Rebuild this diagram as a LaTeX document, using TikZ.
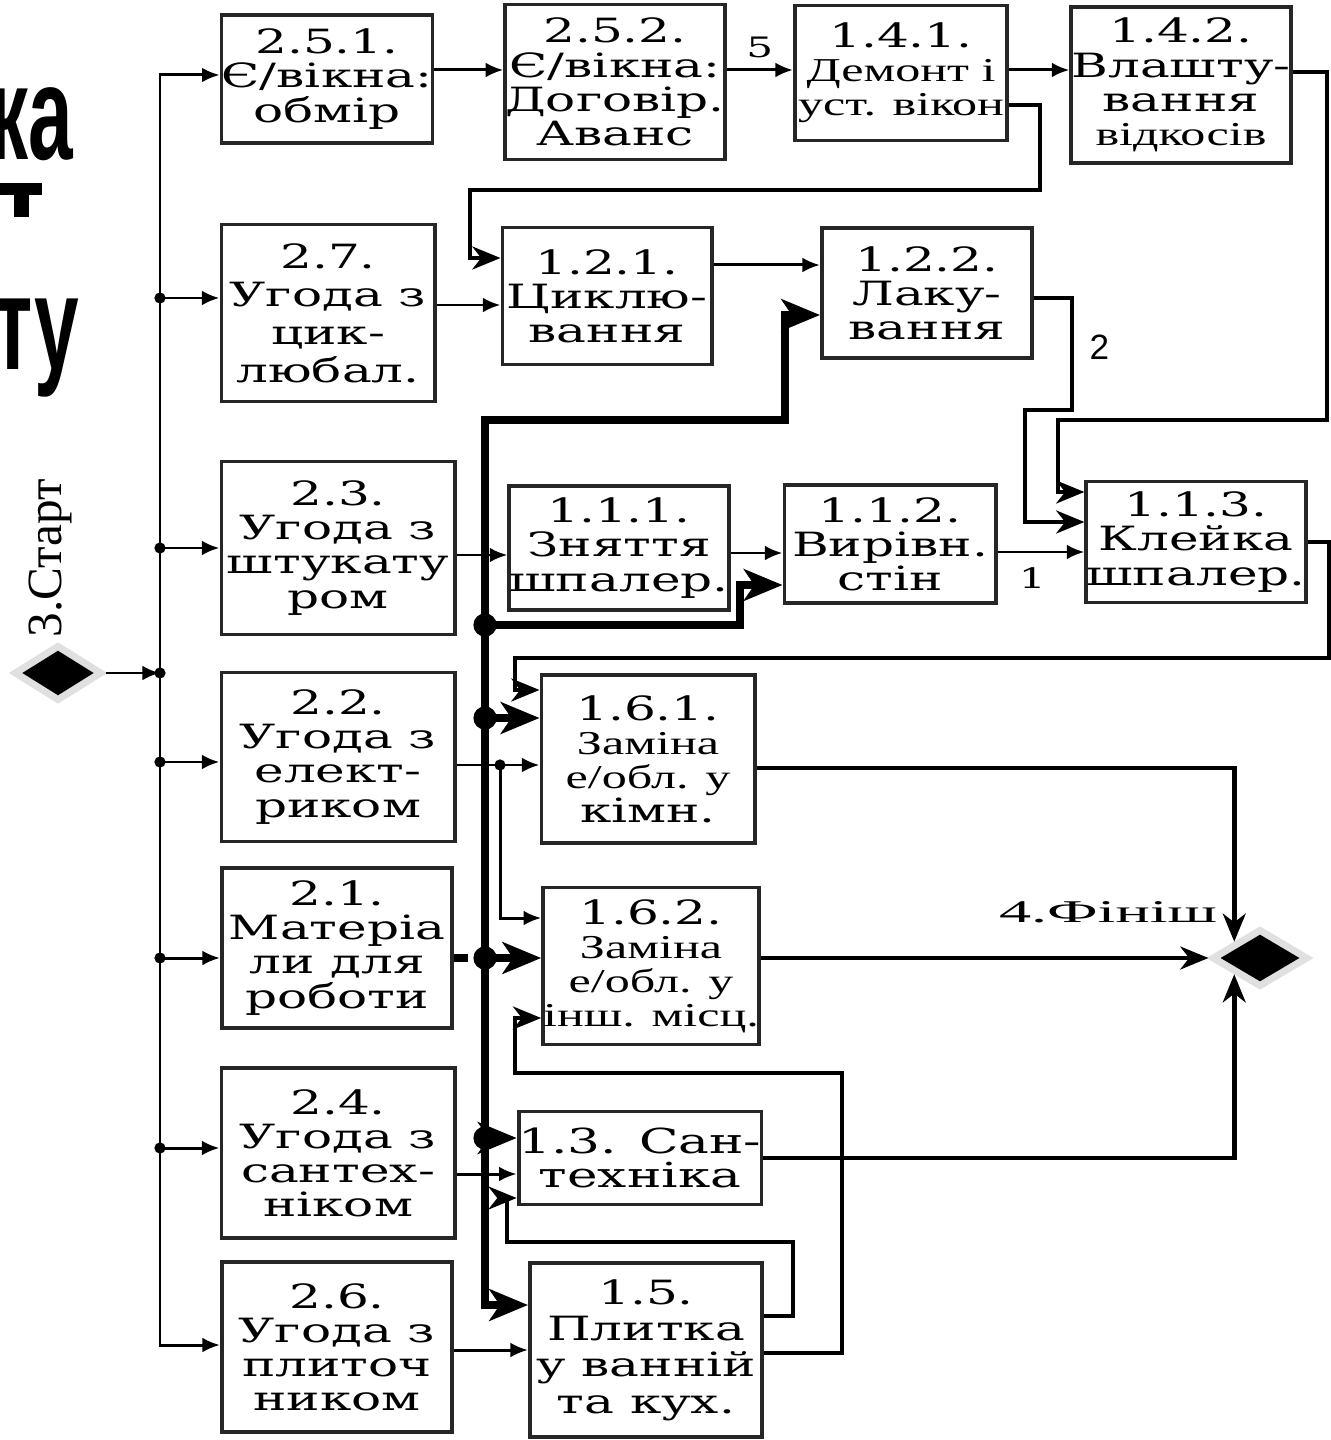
\documentclass[tikz,border=0pt]{standalone}
\usepackage{fontspec}
\setmainfont{DejaVu Serif}[FakeStretch=1.5]
\newfontfamily\narrowfont{Liberation Serif}[FakeStretch=1.5]
\newfontfamily\plainserif{Liberation Serif}
\newfontfamily\titlefont{Liberation Sans}
\usetikzlibrary{arrows.meta,calc,shapes.geometric}

\begin{document}
\begin{tikzpicture}[
    x=0.01cm, y=-0.01cm,
    font=\fontsize{9.5}{9.7}\selectfont,
    task/.style={draw=black!85, line width=1.1pt, fill=white, align=center, inner sep=0pt},
    link/.style={line width=0.85pt, -{Latex[length=5pt,width=4.2pt]}},
    relay/.style={line width=1.3pt, -{Stealth[length=8pt,width=6.5pt,inset=2.5pt]}},
    supply/.style={line width=2pt, -{Stealth[length=11pt,width=9pt,inset=3pt]}},
    milestone/.style={diamond, fill=black, draw=black!12, line width=2pt, inner sep=0pt},
    num/.style={font=\fontsize{8}{8}\selectfont, inner sep=1pt},
    heading/.style={anchor=base east, inner sep=0pt, font=\titlefont\bfseries\fontsize{38}{38}\selectfont}
  ]
    \useasboundingbox (0,0) rectangle (1331,1440);

    % cut title on the left
    \node[heading] (titlea) at (74,160) {\scalebox{0.6}[1]{ка}};
    \fill (0,183) rectangle (42,195);
    \fill (14,195) rectangle (29,217);
    \node[heading] (titlec) at (80,370) {\scalebox{0.6}[1]{ту}};

    % start and finish
    \node[milestone, minimum width=0.88cm, minimum height=0.56cm] (start) at (58,673) {};
    \node[rotate=90, font=\plainserif\fontsize{14}{14}\selectfont] (startlbl) at (50,558) {3.Старт};
    \node[milestone, minimum width=0.96cm, minimum height=0.58cm] (finish) at (1260,958) {};
    \node[font=\narrowfont\fontsize{9}{9}\selectfont] (finishlbl) at (1108,912) {\scalebox{1.35}[1]{4.Фініш}};

    % agreements
    \node[task, minimum width=2.10cm, minimum height=1.28cm] (measure) at (327,79) {2.5.1.\\Є/вікна:\\обмір};
    \node[task, minimum width=2.13cm, minimum height=1.77cm, font=\fontsize{9.5}{10.8}\selectfont] (sanderdeal) at (328,313) {2.7.\\Угода з\\цик-\\любал.};
    \node[task, minimum width=2.33cm, minimum height=1.73cm] (plasterdeal) at (338,548) {2.3.\\Угода з\\штукату\\ром};
    \node[task, minimum width=2.33cm, minimum height=1.69cm] (electricdeal) at (338,757) {2.2.\\Угода з\\елект-\\риком};
    \node[task, minimum width=2.30cm, minimum height=1.60cm] (materials) at (337,948) {2.1.\\Матеріа\\ли для\\роботи};
    \node[task, minimum width=2.33cm, minimum height=1.70cm] (plumbdeal) at (338,1153) {2.4.\\Угода з\\сантех-\\ніком};
    \node[task, minimum width=2.30cm, minimum height=1.70cm] (tiledeal) at (337,1347) {2.6.\\Угода з\\плиточ\\ником};

    % works
    \node[task, minimum width=2.10cm, minimum height=1.55cm] (contract) at (615,82) {2.5.2.\\Є/вікна:\\Договір.\\Аванс};
    \node[task, minimum width=2.12cm, minimum height=1.35cm] (windows) at (901,73) {1.4.1.\\{\narrowfont Демонт і}\\{\narrowfont уст. вікон}};
    \node[task, minimum width=2.12cm, minimum height=1.56cm] (slopes) at (1181,85) {1.4.2.\\Влашту-\\вання\\{\narrowfont відкосів}};
    \node[task, minimum width=2.09cm, minimum height=1.37cm] (sanding) at (607,296) {1.2.1.\\Циклю-\\вання};
    \node[task, minimum width=2.10cm, minimum height=1.30cm] (varnish) at (927,293) {1.2.2.\\Лаку-\\вання};
    \node[task, minimum width=2.08cm, minimum height=1.24cm] (strip) at (619,548) {1.1.1.\\Зняття\\шпалер.};
    \node[task, minimum width=2.11cm, minimum height=1.18cm] (level) at (890,544) {1.1.2.\\Вирівн.\\стін};
    \node[task, minimum width=2.09cm, minimum height=1.21cm] (paper) at (1196,542) {1.1.3.\\Клейка\\шпалер.};
    \node[task, minimum width=2.13cm, minimum height=1.68cm] (wiringroom) at (648,759) {1.6.1.\\{\narrowfont Заміна}\\{\narrowfont е/обл. у}\\кімн.};
    \node[task, minimum width=2.08cm, minimum height=1.57cm] (wiringother) at (651,966) {1.6.2.\\{\narrowfont Заміна}\\{\narrowfont е/обл. у}\\{\narrowfont інш. місц.}};
    \node[task, minimum width=2.34cm, minimum height=0.93cm, font=\fontsize{9.8}{9.8}\selectfont] (plumbing) at (640,1158) {1.3. Сан-\\техніка};
    \node[task, minimum width=2.32cm, minimum height=1.74cm, font=\fontsize{9.5}{10.3}\selectfont] (tiling) at (646,1350) {1.5.\\Плитка\\у ванній\\та кух.};

    % left bus
    \coordinate (bus) at (160,673);
    \draw[link] (start) -- (bus);
    \draw[link] (bus) |- (measure.west |- 0,75);
    \draw[link] (bus) |- (tiledeal.west |- 0,1345);
    \draw[link] (bus |- 0,298) -- (sanderdeal.west |- 0,298);
    \draw[link] (bus |- 0,548) -- (plasterdeal.west |- 0,548);
    \draw[link] (bus |- 0,762) -- (electricdeal.west |- 0,762);
    \draw[link] (bus |- 0,958) -- (materials.west |- 0,958);
    \draw[link] (bus |- 0,1148) -- (plumbdeal.west |- 0,1148);
    \fill (bus) circle[radius=1.6pt];
    \fill (bus |- 0,298) circle[radius=1.6pt];
    \fill (bus |- 0,548) circle[radius=1.6pt];
    \fill (bus |- 0,762) circle[radius=1.6pt];
    \fill (bus |- 0,958) circle[radius=1.6pt];
    \fill (bus |- 0,1148) circle[radius=1.6pt];

    % direct links
    \draw[link] (measure.east |- 0,70) -- (contract.west |- 0,70);
    \draw[link] (contract.east |- 0,70) -- node[num, above=2pt] (lblfive) {5} (windows.west |- 0,70);
    \draw[link] (windows.east |- 0,70) -- (slopes.west |- 0,70);
    \draw[link] (sanderdeal.east |- 0,305) -- (sanding.west |- 0,305);
    \draw[link] (sanding.east |- 0,265) -- (varnish.west |- 0,265);
    \draw[link] (plasterdeal.east |- 0,555) -- (strip.west |- 0,555);
    \draw[link] (strip.east |- 0,553) -- (level.west |- 0,553);
    \draw[link] (level.east |- 0,552) -- node[num, below=3pt, pos=0.4] (lblone) {1} (paper.west |- 0,552);
    \draw[link] (plumbdeal.east |- 0,1174) -- (plumbing.west |- 0,1174);
    \draw[link] (tiledeal.east |- 0,1350) -- (tiling.west |- 0,1350);
    \coordinate (elj) at (500,765);
    \draw[link] (electricdeal.east |- elj) -- (wiringroom.west |- elj);
    \draw[link] (elj) |- (wiringother.west |- 0,918);
    \fill (elj) circle[radius=1.6pt];

    % returns
    \draw[relay] (windows.east |- 0,105) -| (1040,190) -| (470,258) -- (sanding.west |- 0,258);
    \draw[relay] (varnish.east |- 0,298) -| node[pos=0.72, right=1pt, font=\titlefont\fontsize{10}{10}\selectfont] (lbltwo) {2} (1072,410) -| (1025,522) -- (paper.west |- 0,522);
    \draw[relay] (slopes.east |- 0,72) -| (1327,420) -| (1058,492) -- (paper.west |- 0,492);
    \draw[relay] (paper.east |- 0,542) -| (1329,658) -| (515,690) -- (wiringroom.west |- 0,690);
    \draw[relay] (tiling.east |- 0,1316) -| (793,1242) -| (507,1198) -- (plumbing.west |- 0,1198);
    \draw[relay] (tiling.east |- 0,1353) -| (842,1073) -| (515,1018) -- (wiringother.west |- 0,1018);
    \draw[relay] (wiringroom.east |- 0,768) -| (finish.north west);
    \draw[relay] (wiringother.east |- finish) -- (finish.west);
    \draw[relay] (plumbing.east |- 0,1158) -| (finish.south west);

    % materials supply
    \coordinate (mat) at (485,958);
    \draw[supply, -, dash pattern=on 4pt off 2pt] (materials.east |- mat) -- (mat);
    \draw[supply] (mat) |- (785,420) |- (varnish.west |- 0,315);
    \draw[supply] (mat |- 0,625) -| (740,585) -- (level.west |- 0,585);
    \draw[supply] (mat |- 0,718) -- (wiringroom.west |- 0,718);
    \draw[supply] (mat) -- (wiringother.west |- mat);
    \draw[supply] (mat |- 0,1138) -- (plumbing.west |- 0,1138);
    \draw[supply] (mat) |- (tiling.west |- 0,1305);
    \fill (mat) circle[radius=3.3pt];
    \fill (mat |- 0,625) circle[radius=3.3pt];
    \fill (mat |- 0,718) circle[radius=3.3pt];
    \fill (mat |- 0,1138) circle[radius=3.3pt];
  \end{tikzpicture}
\end{document}
